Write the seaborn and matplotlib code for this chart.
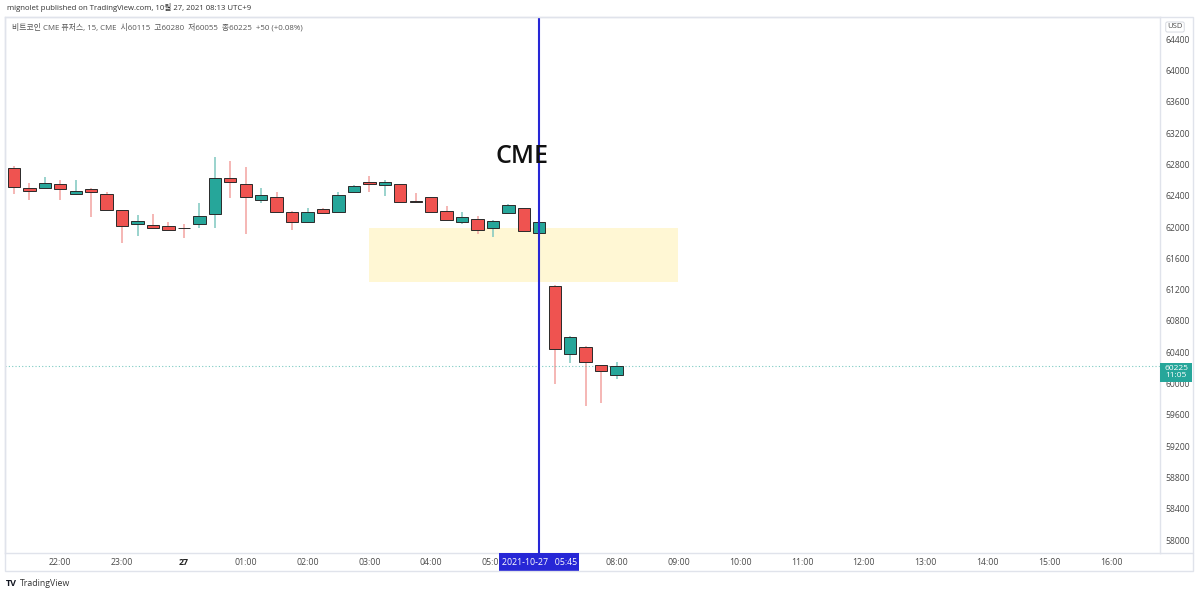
import matplotlib
matplotlib.use("Agg")
import matplotlib.pyplot as plt
from matplotlib.patches import Rectangle
from matplotlib.lines import Line2D
import seaborn as sns
import pandas as pd
import numpy as np

sns.set_theme(style="white")
plt.rcParams['font.family'] = ['Open Sans', 'Noto Sans CJK KR', 'DejaVu Sans']

# 15-minute candles, 21:15 (26th) .. 05:45, break, 07:00 .. 08:00 (27th)
opens = [62758, 62502, 62502, 62553, 62418, 62486, 62422, 62217, 62038, 62026,
         62017, 61990, 62035, 62166, 62622, 62546, 62341, 62383, 62196, 62068,
         62226, 62196, 62447, 62571, 62537, 62546, 62330, 62380, 62208, 62068,
         62102, 61983, 62183, 62239, 61919, 61250, 60373, 60463, 60236, 60115]
highs = [62775, 62558, 62635, 62601, 62601, 62495, 62451, 62217, 62153, 62166,
         62068, 62038, 62303, 62891, 62843, 62763, 62502, 62451, 62200, 62239,
         62240, 62443, 62535, 62652, 62601, 62555, 62431, 62390, 62268, 62196,
         62144, 62085, 62290, 62245, 62110, 61255, 60605, 60475, 60240, 60280]
lows = [62422, 62345, 62495, 62345, 62410, 62132, 62205, 61799, 61885, 61975,
        61955, 61856, 61983, 61983, 62367, 61907, 62311, 62180, 61962, 62047,
        62165, 62190, 62431, 62451, 62400, 62303, 62316, 62190, 62080, 62038,
        61911, 61876, 62175, 61945, 61850, 59994, 60266, 59712, 59755, 60055]
closes = [62507, 62460, 62558, 62486, 62460, 62447, 62213, 62017, 62081, 61983,
          61962, 61985, 62141, 62622, 62571, 62387, 62405, 62188, 62064, 62192,
          62175, 62405, 62528, 62550, 62579, 62316, 62325, 62196, 62089, 62124,
          61962, 62077, 62281, 61953, 62068, 60437, 60598, 60271, 60163, 60225]

# trading-session time slots (CME daily break 06:00-07:00 KST skipped)
slots = pd.date_range("2021-10-26 21:15", "2021-10-27 05:45", freq="15min").append(
    pd.date_range("2021-10-27 07:00", "2021-10-27 16:00", freq="15min"))

marker_time = pd.Timestamp("2021-10-27 05:45")
zone_start, zone_end = pd.Timestamp("2021-10-27 03:00"), pd.Timestamp("2021-10-27 09:00")
zone_low, zone_high = 61297, 61987
last_time_left = "11:05"

COLORS = {
    'up': '#26a69a', 'down': '#ef5350',
    'up_wick': '#7fc8c0', 'down_wick': '#f2a3a1',
    'edge': '#2a2a2a', 'border': '#e0e3eb',
    'marker': '#2727d6', 'zone': '#fff7d4', 'text': '#4a4a4a',
}

df = pd.DataFrame({'open': opens, 'high': highs, 'low': lows, 'close': closes})
df['time'] = slots[:len(df)]
df['pos'] = np.arange(len(df))
df['up'] = df['close'] >= df['open']
slot_pos = {t: i for i, t in enumerate(slots)}

fig = plt.figure(figsize=(12, 5.95), dpi=100)
ax = fig.add_axes([5 / 1200, 1 - 553 / 595, 1155 / 1200, 536 / 595])

# highlighted zone
ax.add_patch(Rectangle((slot_pos[zone_start], zone_low),
                       slot_pos[zone_end] - slot_pos[zone_start], zone_high - zone_low,
                       facecolor=COLORS['zone'], edgecolor='none', zorder=0))

# wicks and bodies
wick_colors = np.where(df['up'], COLORS['up_wick'], COLORS['down_wick'])
ax.vlines(df['pos'], df['low'], df['high'], colors=wick_colors, linewidth=1.1, zorder=1)
body_low = df[['open', 'close']].min(axis=1)
body_h = (df['close'] - df['open']).abs().clip(lower=4)
ax.bar(df['pos'], body_h, bottom=body_low, width=0.8,
       color=np.where(df['up'], COLORS['up'], COLORS['down']),
       edgecolor=COLORS['edge'], linewidth=0.7, zorder=2)

# last price line
last_close = closes[-1]
ax.axhline(last_close, color=COLORS['up'], linestyle=(0, (1, 2)), linewidth=0.8, alpha=0.6, zorder=1)

# vertical marker + label
mpos = slot_pos[marker_time]
ax.axvline(mpos, color=COLORS['marker'], linewidth=1.5, zorder=3)
ax.text(mpos - 1.1, 62895, "CME", ha='center', va='center', fontsize=18,
        fontweight='semibold', color='#111111', zorder=4)

ax.set_xlim(-0.58, 74.17)
ax.set_ylim(57834, 64684)

# axes styling
ax.yaxis.tick_right()
ax.set_yticks(np.arange(58000, 64401, 400))
ax.tick_params(axis='y', length=0, pad=4, labelsize=6.2, labelcolor=COLORS['text'])
# hour ticks; 07:00 sits under the date label box, so it is left out
tick_idx = [i for i, t in enumerate(slots)
            if t.minute == 0 and i >= 3 and abs(i - slot_pos[marker_time]) > 2]
tick_lbl = ["27" if slots[i].hour == 0 else slots[i].strftime("%H:%M") for i in tick_idx]
ax.set_xticks(tick_idx)
ax.set_xticklabels(tick_lbl)
ax.tick_params(axis='x', length=0, pad=3.5, labelsize=6.3, labelcolor=COLORS['text'])
for lbl in ax.get_xticklabels():
    if lbl.get_text() == "27":
        lbl.set_fontweight('bold')
        lbl.set_color('#222222')
ax.grid(False)
for s in ax.spines.values():
    s.set_color(COLORS['border'])
    s.set_linewidth(1)

# date label box on time scale
xform = ax.get_xaxis_transform()
ax.add_patch(Rectangle((mpos - 2.6, -0.0336), 5.2, 0.0336, transform=xform,
                       facecolor=COLORS['marker'], edgecolor='none', clip_on=False, zorder=5))
ax.text(mpos, -0.0168, "2021-10-27   05:45", transform=xform, ha='center', va='center',
        fontsize=6.3, color='white', zorder=6, clip_on=False)

# last price tag on price scale
yform = ax.get_yaxis_transform()
ax.add_patch(Rectangle((1.0, last_close - 16 * 12.78), 32 / 1155, 19 * 12.78, transform=yform,
                       facecolor=COLORS['up'], edgecolor='none', clip_on=False, zorder=5))
ax.text(1.0 + 16 / 1155, last_close - 6.5 * 12.78, f"{last_close}\n{last_time_left}",
        transform=yform, ha='center', va='center', fontsize=6.0, color='white',
        linespacing=1.0, zorder=6, clip_on=False)

# outer frame of price/time scales
fig.add_artist(Rectangle((5 / 1200, 1 - 571 / 595), 1188 / 1200, 554 / 595,
                         transform=fig.transFigure, fill=False, edgecolor=COLORS['border'], lw=1))
fig.add_artist(Line2D([1160 / 1200, 1193 / 1200], [1 - 553 / 595] * 2,
                      transform=fig.transFigure, color=COLORS['border'], lw=1))

# header and footer
fig.text(7 / 1200, 1 - 8 / 595, "mignolet published on TradingView.com, 10월 27, 2021 08:13 UTC+9",
         fontsize=5.6, color='#333333', va='center')
fig.text(12 / 1200, 1 - 27 / 595,
         "비트코인 CME 퓨처스, 15, CME  시60115  고60280  저60055  종60225  +50 (+0.08%)",
         fontsize=5.7, color='#555555', va='center')
fig.text(1175 / 1200, 1 - 27 / 595, "USD", fontsize=5.5, color=COLORS['text'], ha='center', va='center',
         bbox=dict(boxstyle='round,pad=0.2', facecolor='white', edgecolor='#d1d4dc', linewidth=0.6))
fig.text(6 / 1200, 1 - 583 / 595, "TV", fontsize=6.5, fontweight='bold', color='#131722', va='center')
fig.text(20 / 1200, 1 - 583 / 595, "TradingView", fontsize=6.3, color='#333333', va='center')

plt.savefig("out.png", dpi=100)
plt.close()
